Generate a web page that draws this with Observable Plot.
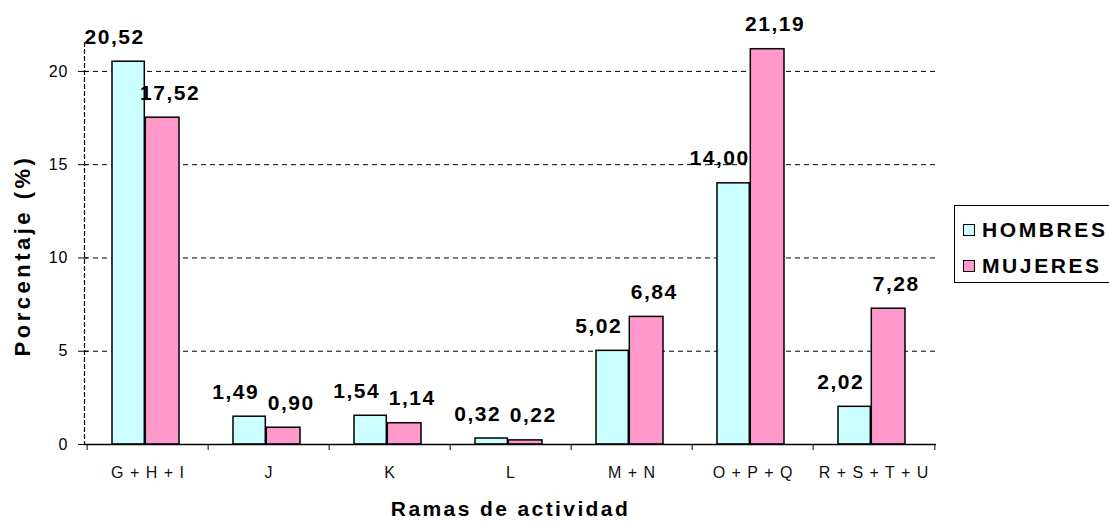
<!DOCTYPE html>
<html><head><meta charset="utf-8">
<script src="https://cdn.jsdelivr.net/npm/d3@7"></script>
<script src="https://cdn.jsdelivr.net/npm/@observablehq/plot@0.6"></script>
<style>
html,body{margin:0;padding:0;background:#fff;overflow:hidden;width:1109px;height:523px}
#wrap{position:relative;width:1109px;height:523px;overflow:hidden}
#legend{position:absolute;left:954px;top:205px;width:170px;height:76px;border:1.5px solid #000;background:#fff;font:bold 21px "Liberation Sans",Arial,sans-serif;letter-spacing:2.6px;color:#000}
.row{position:absolute;left:8px;height:24px;display:flex;align-items:center;white-space:nowrap}
.sw{width:10px;height:10px;border:1.5px solid #000;margin-right:7px;flex:none}
.val{letter-spacing:1.5px}
.xt text{letter-spacing:1px}
.ttl{letter-spacing:2.4px}
.ttly{letter-spacing:3.5px}
</style>
</head><body>
<div id="wrap"></div>
<script>
const categorias = ["G + H + I", "J", "K", "L", "M + N", "O + P + Q", "R + S + T + U"];
const hombres = [20.52, 1.49, 1.54, 0.32, 5.02, 14.00, 2.02];
const mujeres = [17.52, 0.90, 1.14, 0.22, 6.84, 21.19, 7.28];
const series = ["HOMBRES", "MUJERES"];
const colores = ["#CCFFFF", "#FF99CC"];
const yTicks = [0, 5, 10, 15, 20];
const tituloX = "Ramas de actividad";
const tituloY = "Porcentaje (%)";

const datos = [];
categorias.forEach((c, i) => {
  datos.push({cat: c, serie: series[0], valor: hombres[i]});
  datos.push({cat: c, serie: series[1], valor: mujeres[i]});
});
const fmt = v => d3.format(".2f")(v).replace(".", ",");

const W = 1109, H = 523, mL = 84, mR = 173, mT = 42, mB = 79;
const step = (W - mL - mR) / categorias.length;

const H_ = datos.filter(d => d.serie === series[0]);
const M_ = datos.filter(d => d.serie === series[1]);

const chart = Plot.plot({
  width: W, height: H,
  marginLeft: mL, marginRight: mR, marginTop: mT, marginBottom: mB,
  style: {fontFamily: '"Liberation Sans", Arial, sans-serif', background: "#fff", color: "#000", letterSpacing: "1px"},
  x: {domain: categorias, padding: 0},
  y: {domain: [0, 21.55]},
  marks: [
    Plot.gridY({ticks: yTicks.slice(1), stroke: "#000", strokeOpacity: 1, strokeWidth: 1, strokeDasharray: "5,4"}),
    Plot.frame({anchor: "left", stroke: "#000", strokeWidth: 1.2, strokeDasharray: "4,3"}),
    Plot.barY(H_, {x: "cat", y: "valor", fill: colores[0], stroke: "#000", strokeWidth: 1.5, insetLeft: 25, insetRight: 63.7}),
    Plot.barY(M_, {x: "cat", y: "valor", fill: colores[1], stroke: "#000", strokeWidth: 1.5, insetLeft: 58.3, insetRight: 29}),
    Plot.ruleY([0], {stroke: "#000", strokeWidth: 1.5}),
    Plot.axisY({ticks: yTicks, tickSize: 6, tickPadding: 10, fontSize: 16, label: null, tickFormat: d => String(d), stroke: "#000"}),
    Plot.axisY({ticks: yTicks, tickSize: -4, label: null, tickFormat: () => "", stroke: "#000"}),
    Plot.axisX({tickSize: 0, tickPadding: 22, fontSize: 16, label: null, className: "xt", fill: "#111"}),
    Plot.axisX({tickSize: 6, label: null, tickFormat: () => "", dx: -step / 2, stroke: "#000"}),
    Plot.axisX({ticks: [categorias[categorias.length - 1]], tickSize: 6, label: null, tickFormat: () => "", dx: step / 2, stroke: "#000"}),
    Plot.text(H_, {x: "cat", y: "valor", text: d => fmt(d.valor), dx: 41.5 - step / 2 - 14, dy: -18, lineAnchor: "bottom", fontSize: 21, fontWeight: "bold", className: "val"}),
    Plot.text(M_, {x: "cat", y: "valor", text: d => fmt(d.valor), dx: 75 - step / 2 + 8, dy: -18, lineAnchor: "bottom", fontSize: 21, fontWeight: "bold", className: "val"}),
    Plot.text([tituloX], {frameAnchor: "bottom", textAnchor: "middle", dy: 71, fontSize: 21, fontWeight: "bold", className: "ttl"}),
    Plot.text([tituloY], {frameAnchor: "left", textAnchor: "middle", rotate: -90, dx: -62, dy: 12, fontSize: 22, fontWeight: "bold", className: "ttly"})
  ]
});
const wrap = document.getElementById("wrap");
wrap.appendChild(chart);

const leg = document.createElement("div");
leg.id = "legend";
series.forEach((s, i) => {
  const r = document.createElement("div");
  r.className = "row";
  r.style.top = (i === 0 ? 12 : 48) + "px";
  const sw = document.createElement("span");
  sw.className = "sw";
  sw.style.background = colores[i];
  const t = document.createElement("span");
  t.textContent = s;
  r.appendChild(sw); r.appendChild(t);
  leg.appendChild(r);
});
wrap.appendChild(leg);
</script>
</body></html>
